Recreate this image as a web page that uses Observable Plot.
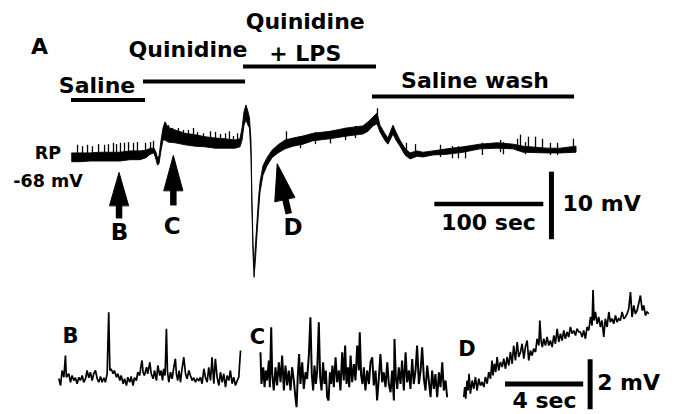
<!DOCTYPE html>
<html><head><meta charset="utf-8">
<script src="https://cdn.jsdelivr.net/npm/d3@7"></script>
<script src="https://cdn.jsdelivr.net/npm/@observablehq/plot@0.6"></script>
<style>
html,body{margin:0;padding:0;background:#fff;}
#fig{position:relative;width:676px;height:414px;overflow:hidden;background:#fff;}
#fig svg{position:absolute;left:0;}
</style></head><body><div id="fig"></div>
<script>
// ---- Main recording (time in s, membrane potential in mV; band = noise envelope)
const mainT = [0, 7.3, 16.5, 25.7, 34.9, 44.0, 53.2, 62.4, 67.9, 71.6, 75.2, 77.1, 78.4, 79.8, 81.7, 83.5, 85.3, 88.1, 94.5, 103.7, 112.8, 122.0, 131.2, 140.4, 149.5, 154.1, 156.0, 157.8, 159.6, 161.5, 162.8, 164.2, 165.1, 166.1, 167.0, 168.3, 169.7, 171.1, 172.5, 175.2, 178.9, 183.5, 189.0, 195.4, 202.8, 211.9, 221.1, 236.7, 252.3, 266.9, 271.6, 276.1, 279.8, 282.6, 287.2, 289.9, 292.7, 294.5, 297.2, 300.9, 305.5, 310.1, 316.5, 322.0, 331.2, 344.0, 358.7, 374.3, 389.9, 404.6, 413.8, 435.8, 447.7, 462.4];
const mainHi = [-67.4, -67.4, -67.4, -67.3, -67.3, -67.3, -67.1, -67.1, -67.0, -66.7, -66.7, -67.3, -68.1, -67.9, -65.5, -63.7, -62.8, -63.6, -64.0, -64.5, -64.7, -65.0, -65.2, -65.3, -65.5, -65.3, -63.7, -61.3, -60.3, -61.3, -62.2, -65.5, -74.4, -81.0, -84.4, -81.0, -77.6, -74.1, -71.7, -69.3, -68.1, -67.0, -66.2, -65.5, -65.2, -64.9, -64.5, -64.2, -63.7, -63.4, -62.8, -62.1, -61.5, -63.3, -64.6, -65.2, -64.0, -63.3, -64.3, -65.5, -66.7, -67.4, -67.1, -67.3, -67.1, -66.8, -66.5, -66.1, -65.9, -66.1, -66.4, -66.7, -66.7, -66.4];
const mainLo = [-68.7, -68.7, -68.6, -68.6, -68.6, -68.6, -68.4, -68.4, -68.1, -67.6, -67.4, -68.4, -69.2, -69.0, -67.0, -65.5, -65.5, -65.8, -65.9, -66.2, -66.4, -66.5, -66.7, -66.7, -66.7, -66.5, -65.5, -63.3, -62.5, -63.3, -63.7, -67.7, -75.8, -82.5, -85.8, -83.2, -79.5, -76.1, -73.2, -70.7, -69.3, -68.1, -67.4, -66.8, -66.4, -66.1, -65.6, -65.3, -64.9, -64.6, -64.2, -63.4, -63.1, -64.3, -65.6, -66.1, -65.2, -64.6, -65.5, -66.4, -67.7, -68.3, -67.9, -68.0, -67.7, -67.6, -67.3, -66.8, -66.7, -66.8, -67.3, -67.4, -67.4, -67.3];
const spikeT = [4.6, 9.2, 13.8, 18.3, 23.9, 29.4, 33.0, 37.6, 40.4, 44.0, 47.7, 51.4, 56.0, 59.6, 67.0, 71.6, 74.3, 88.1, 91.7, 97.2, 101.8, 106.4, 111.0, 114.7, 120.2, 126.6, 131.2, 135.8, 140.4, 144.0, 147.7, 151.4, 196.3, 209.2, 222.9, 236.7, 250.5, 259.6, 279.8, 306.4, 314.7, 337.6, 348.6, 354.1, 360.6, 376.1, 392.7, 395.4, 408.3, 411.0, 415.6, 418.3, 424.8, 431.2, 438.5, 445.0, 459.6];
const spikeTop = [-66.2, -66.4, -66.2, -66.4, -66.1, -66.2, -66.1, -65.9, -66.1, -65.9, -65.9, -65.8, -65.9, -65.8, -65.9, -65.8, -65.6, -63.3, -63.7, -63.7, -64.0, -64.0, -63.7, -64.3, -64.5, -64.2, -64.3, -64.6, -64.5, -64.2, -64.9, -64.5, -64.2, -64.9, -64.3, -64.2, -63.7, -63.4, -60.8, -65.9, -66.1, -66.2, -66.4, -66.4, -66.4, -65.9, -65.5, -65.8, -65.3, -64.7, -65.8, -65.0, -65.0, -65.3, -65.9, -65.9, -65.3];

// ---- Treatment periods (s)
const periodNames = ["Saline", "Quinidine", "Quinidine\n+ LPS", "Saline wash"];
const periodStart = [-0.9, 65.1, 156.9, 275.2];
const periodEnd = [67.0, 158.7, 278.9, 460.6];

// ---- Marked time points (arrows)
const markNames = ["B", "C", "D"];

// ---- Expanded traces (time in s, relative mV)
const bT = [0,0.09,0.17,0.26,0.34,0.39,0.51,0.60,0.68,0.77,0.85,0.94,1.03,1.11,1.20,1.28,1.37,1.45,1.54,1.62,1.71,1.79,1.88,1.97,2.05,2.14,2.22,2.31,2.39,2.48,2.56,2.62,2.68,2.79,2.85,2.96,3.03,3.13,3.20,3.30,3.37,3.47,3.54,3.64,3.71,3.81,3.88,3.98,4.05,4.15,4.22,4.27,4.32,4.39,4.50,4.56,4.67,4.74,4.84,4.91,5.01,5.08,5.18,5.25,5.32,5.38,5.45,5.52,5.57,5.64,5.73,5.81,5.90,5.98,6.03,6.10,6.17,6.24,6.32,6.41,6.50,6.58,6.67,6.75,6.84,6.92,7.01,7.09,7.18,7.26,7.35,7.44,7.52,7.61,7.69,7.78,7.86,7.95,8.03,8.12,8.21,8.29,8.38,8.46,8.55,8.63,8.72,8.80,8.89,8.97,9.06,9.15,9.23,9.32];
const bV = [0.0,-0.28,0.32,0.05,0.92,0.05,0.19,-0.15,0.12,-0.08,0.03,-0.21,0.05,-0.08,0.12,-0.15,-0.01,0.32,0.03,0.25,-0.08,0.19,0.32,-0.01,-0.15,0.08,-0.15,0.03,-0.15,0.19,2.65,0.32,0.39,0.19,0.32,0.05,0.19,-0.08,0.12,-0.21,-0.01,-0.28,0.05,-0.15,0.08,-0.28,0.03,-0.08,0.25,0.12,0.52,0.72,0.25,0.12,0.45,0.19,0.65,0.19,-0.01,0.32,-0.08,0.52,0.12,0.32,-0.08,0.39,0.12,1.99,0.32,-0.15,0.25,-0.01,0.45,0.79,0.19,-0.08,0.32,-0.15,0.39,0.85,0.19,-0.01,0.32,0.12,-0.08,0.03,-0.15,-0.01,-0.08,0.05,-0.21,0.39,0.05,-0.15,0.45,-0.08,0.85,-0.21,0.79,0.05,-0.28,0.25,-0.15,0.19,-0.35,0.12,-0.08,0.32,-0.21,0.05,-0.28,-0.08,0.05,1.12];
const cT = [0,0.05,0.14,0.21,0.27,0.34,0.43,0.48,0.55,0.60,0.68,0.77,0.85,0.94,1.03,1.11,1.20,1.28,1.37,1.45,1.54,1.62,1.71,1.79,1.85,1.91,1.98,2.05,2.14,2.22,2.31,2.39,2.48,2.56,2.63,2.70,2.77,2.84,2.91,2.99,3.06,3.13,3.21,3.28,3.35,3.42,3.49,3.56,3.62,3.69,3.76,3.85,3.93,4.02,4.10,4.19,4.27,4.34,4.41,4.48,4.55,4.62,4.70,4.79,4.87,4.96,5.04,5.09,5.16,5.23,5.30,5.38,5.47,5.56,5.64,5.73,5.81,5.90,5.98,6.07,6.15,6.24,6.32,6.41,6.50,6.58,6.67,6.75,6.84,6.87,6.94,7.01,7.09,7.18,7.26,7.35,7.44,7.52,7.61,7.69,7.78,7.86,7.95,8.03,8.12,8.21,8.29,8.38,8.46,8.55,8.63,8.72,8.80,8.89,8.97,9.06,9.15,9.23,9.32,9.40,9.49,9.57];
const cV = [1.00,-0.27,0.40,-0.40,0.27,-0.13,0.67,-0.40,2.00,0.13,-0.53,0.40,-0.33,0.60,-0.20,0.87,-0.53,0.47,-0.33,0.27,-0.53,0.40,-0.13,-0.80,-1.20,0.00,0.93,-0.27,0.60,-0.47,0.20,-0.07,0.87,2.40,0.13,-0.53,0.47,-0.27,0.27,2.20,0.00,-0.53,0.60,-0.27,0.27,-0.80,-0.93,0.20,-0.27,0.47,-0.40,0.80,-0.20,0.27,-0.53,1.00,-0.13,1.27,-0.27,0.40,-0.40,0.87,-0.20,0.53,-0.13,1.27,0.27,1.80,0.07,-0.27,0.40,-0.53,0.27,-0.27,0.60,0.80,-0.33,0.27,-0.93,0.00,0.93,-0.20,0.20,-0.40,0.60,-0.27,-0.60,0.27,-0.93,1.53,0.00,-0.47,0.40,-0.27,0.67,-0.53,1.00,-0.20,0.27,-0.47,0.73,-0.27,0.27,1.27,-0.27,0.27,1.20,-0.07,-0.53,0.47,-0.13,-0.80,0.27,-0.47,0.13,-0.80,0.20,-0.40,0.60,-0.53,-0.13,-0.80];
const dT = [0,0.05,0.10,0.17,0.22,0.27,0.34,0.43,0.51,0.60,0.68,0.77,0.85,0.94,1.03,1.11,1.20,1.28,1.37,1.45,1.50,1.57,1.64,1.71,1.79,1.88,1.97,2.05,2.14,2.22,2.31,2.39,2.48,2.56,2.65,2.74,2.82,2.91,2.99,3.08,3.16,3.25,3.33,3.42,3.50,3.59,3.68,3.76,3.85,3.90,3.97,4.03,4.10,4.19,4.27,4.36,4.44,4.53,4.62,4.70,4.79,4.87,4.96,5.04,5.13,5.21,5.30,5.38,5.47,5.56,5.64,5.73,5.81,5.90,5.98,6.07,6.15,6.24,6.32,6.41,6.50,6.58,6.63,6.68,6.75,6.84,6.92,7.01,7.09,7.18,7.26,7.35,7.44,7.52,7.61,7.69,7.78,7.86,7.95,8.03,8.12,8.21,8.29,8.38,8.46,8.55,8.63,8.72,8.80,8.89,8.97,9.06,9.15,9.23,9.32,9.40,9.49];
const dV = [-0.13,0.27,-0.20,0.53,0.13,0.80,0.00,0.53,0.20,0.67,0.13,0.60,0.33,0.47,0.27,0.67,0.40,0.87,0.60,1.33,0.73,1.20,0.87,1.47,0.93,1.27,1.07,1.40,1.00,1.47,1.13,1.67,1.20,1.93,1.33,2.07,1.47,1.67,2.00,1.40,1.87,2.13,1.33,1.73,1.53,1.80,1.67,2.20,1.93,2.93,2.07,1.87,2.20,1.93,2.27,1.93,2.13,1.87,2.33,2.00,2.60,2.07,2.40,2.13,2.53,2.20,2.47,2.27,2.67,2.40,2.53,2.33,2.60,2.47,2.47,2.27,2.53,2.20,2.67,2.53,3.07,2.73,4.20,2.93,3.27,2.80,3.07,2.67,2.93,2.27,3.00,2.67,3.27,2.87,3.00,2.80,3.13,2.87,3.00,2.93,3.27,3.00,3.07,3.20,3.40,4.07,3.07,3.53,3.20,3.33,3.60,3.93,3.33,3.53,3.13,3.27,3.20];

// ---------------------------------------------------------------
const FONT = "DejaVu Sans";
const fig = document.getElementById("fig");
const label = (s, x, y, size, anchor = "middle") =>
  Plot.text([{s, x, y}], {x: "x", y: "y", text: "s", fontSize: size, fontWeight: "bold",
    fill: "black", textAnchor: anchor, lineAnchor: "middle"});

const main = mainT.map((t, i) => ({t, lo: mainLo[i], hi: mainHi[i]}));
const spikes = spikeT.map((t, i) => ({t, top: spikeTop[i]}));
const barLevel = [-59.49, -56.76, -54.54, -58.98];
const labelT = [22.5, 106.0, 213.5, 369.3];
const labelV = [-56.91, -51.65, -49.84, -56.24];
const periods = periodNames.map((name, i) => ({name, start: periodStart[i], end: periodEnd[i], level: barLevel[i], lt: labelT[i], lv: labelV[i]}));

// arrowheads (filled triangles) and shafts, one per marked point
const heads = [
  {id: "B", pts: [[34.0, -75.10], [42.7, -70.22], [51.4, -75.10]]},
  {id: "C", pts: [[83.8, -72.88], [92.5, -67.70], [101.2, -72.88]]},
  {id: "D", pts: [[185.6, -74.51], [187.8, -68.93], [203.9, -73.87]]}
].flatMap(h => h.pts.map(([x, y]) => ({id: h.id, x, y})));
const shafts = [
  {id: "B", pts: [[42.7, -74.4], [42.7, -77.02]]},
  {id: "C", pts: [[92.5, -72.3], [92.5, -75.10]]},
  {id: "D", pts: [[194.6, -73.7], [198.4, -76.33]]}
].flatMap(h => h.pts.map(([x, y]) => ({id: h.id, x, y})));
const markPos = [[43.1, -79.17], [91.5, -78.18], [202.3, -78.31]];

const mainPlot = Plot.plot({
  width: 676, height: 414, margin: 0,
  x: {domain: [-66.06, 554.13], axis: null},
  y: {domain: [-106.02, -44.78], axis: null},
  style: {fontFamily: FONT, background: "transparent", color: "black"},
  marks: [
    Plot.areaY(main, {x: "t", y1: "lo", y2: "hi", fill: "black", stroke: "black", strokeWidth: 0.9, curve: "linear"}),
    Plot.ruleX(spikes, {x: "t", y1: "top", y2: d => d.top - 1.8, stroke: "black", strokeWidth: 1.3}),
    Plot.ruleY(periods, {y: "level", x1: "start", x2: "end", stroke: "black", strokeWidth: 4}),
    Plot.text(periods, {x: "lt", y: "lv", text: "name", fontSize: 22, fontWeight: "bold", fill: "black", lineHeight: 1.43, lineAnchor: "middle"}),
    label("A", -30.3, -51.65, 22),
    label("RP", -22.5, -67.33, 17.5),
    label("-68 mV", -22.5, -71.55, 17.5),
    Plot.line(shafts, {x: "x", y: "y", z: "id", stroke: "black", strokeWidth: 6.5, strokeLinecap: "butt"}),
    Plot.line(heads, {x: "x", y: "y", z: "id", fill: "black", stroke: "black", strokeWidth: 1, curve: "linear-closed"}),
    Plot.text(markNames, {x: (d, i) => markPos[i][0], y: (d, i) => markPos[i][1], text: d => d, fontSize: 23, fontWeight: "bold", fill: "black"}),
    // scale bars 100 s / 10 mV
    Plot.ruleY([-74.88], {x1: 332.4, x2: 432.4, stroke: "black", strokeWidth: 4.5}),
    Plot.ruleX([439.4], {y1: -70.17, y2: -80.17, stroke: "black", strokeWidth: 5}),
    label("100 sec", 381.7, -77.62, 22),
    label("10 mV", 449.5, -74.88, 22, "start")
  ]
});
mainPlot.style.top = "0px";
fig.appendChild(mainPlot);

function inset(t, v, xDom, yDom, sw, extra) {
  const data = t.map((d, i) => ({t: d, v: v[i]}));
  const svg = Plot.plot({
    width: 676, height: 124, margin: 0,
    x: {domain: xDom, axis: null},
    y: {domain: yDom, axis: null},
    style: {fontFamily: FONT, background: "transparent", color: "black"},
    marks: [
      Plot.line(data, {x: "t", y: "v", stroke: "black", strokeWidth: sw, strokeLinejoin: "miter", strokeMiterlimit: 2, strokeLinecap: "butt"}),
      ...extra
    ]
  });
  svg.style.top = "290px";
  fig.appendChild(svg);
}

inset(bT, bV, [-2.99, 31.68], [-1.44, 3.52], 1.7, [label("B", 0.60, 1.69, 21)]);
inset(cT, cV, [-13.33, 21.33], [-1.49, 3.47], 2.0, [label("C", -0.15, 1.61, 21)]);
inset(dT, dV, [-23.76, 10.91], [-0.83, 4.13], 1.7, [
  label("D", 0.17, 1.76, 21),
  Plot.ruleY([0.39], {x1: 2.14, x2: 6.15, stroke: "black", strokeWidth: 5}),
  Plot.ruleX([6.48], {y1: 1.36, y2: -0.64, stroke: "black", strokeWidth: 5}),
  label("4 sec", 4.14, -0.27, 22),
  label("2 mV", 6.84, 0.44, 22, "start")
]);
</script>
</body></html>
